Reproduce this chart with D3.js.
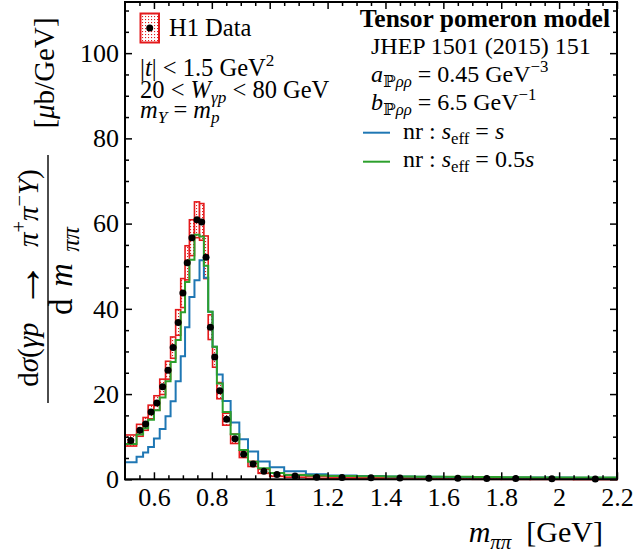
<!DOCTYPE html>
<html lang="en">
<head>
    <meta charset="UTF-8">
    <title>Tensor pomeron model vs H1 data</title>
    <script src="https://d3js.org/d3.v7.min.js"></script>
    <style>
        body { margin: 0; background: #fff; }
        svg text { font-family: "Liberation Serif", "DejaVu Serif", serif; fill: #000; white-space: pre; }
        .tick text { font-size: 26px; }
    </style>
</head>
<body>
    <div id="chart"></div>

    <script>
        // bin edges of m_pipi [GeV]
        const binEdges = [0.5, 0.54, 0.5625, 0.58, 0.6, 0.62, 0.64, 0.6575, 0.675, 0.6925, 0.7075, 0.7225,
            0.74, 0.7575, 0.7725, 0.7875, 0.8025, 0.8175, 0.8375, 0.865, 0.895, 0.925, 0.96, 1.0,
            1.05, 1.125, 1.2, 1.3, 1.4, 1.5, 1.6, 1.7, 1.8, 1.9, 2.05, 2.2];

        // H1 data and total uncertainty (half height of box)
        const h1Values = [9.1, 11.5, 13.0, 15.8, 17.9, 21.7, 25.6, 30.9, 36.8, 43.7, 50.8, 56.7, 60.9, 60.4, 52.1,
            35.7, 28.7, 20.8, 14.1, 9.5, 5.9, 3.6, 1.9, 1.1, 0.8, 0.5, 0.4, 0.35, 0.3, 0.25, 0.22, 0.2, 0.18, 0.12, 0.08];
        const h1Errors = [1.3, 1.4, 1.5, 1.6, 1.7, 1.8, 2.1, 2.5, 3.0, 3.4, 4.0, 4.2, 4.2, 4.3, 5.0,
            2.9, 2.4, 1.9, 1.4, 1.1, 0.8, 0.6, 0.5, 0.4, 0.3, 0.25, 0.2, 0.2, 0.2, 0.2, 0.2, 0.2, 0.2, 0.15, 0.15];

        // model: nr, s_eff = s
        const nrFull = [4.0, 5.3, 6.3, 7.6, 9.6, 11.8, 14.8, 18.3, 23.0, 28.9, 35.7, 42.8, 46.7, 51.4, 47.3,
            39.3, 31.1, 24.6, 18.4, 13.3, 9.4, 6.5, 4.2, 2.8, 1.9, 1.2, 0.9, 0.75, 0.65, 0.6, 0.55, 0.5, 0.45, 0.4, 0.35];
        // model: nr, s_eff = 0.5 s
        const nrHalf = [8.3, 10.5, 12.0, 14.0, 16.2, 19.2, 23.0, 27.5, 32.7, 39.2, 46.3, 51.5, 57.4, 57.0, 50.1,
            39.3, 31.1, 22.5, 15.8, 10.6, 6.9, 4.1, 2.6, 1.5, 1.0, 0.9, 0.75, 0.7, 0.65, 0.6, 0.6, 0.55, 0.5, 0.45, 0.4];

        const xTicks = [0.6, 0.8, 1, 1.2, 1.4, 1.6, 1.8, 2, 2.2];
        const yTicks = [0, 20, 40, 60, 80, 100];

        const W = 633, H = 559;
        const plot = {left: 125, right: 617, top: 2, bottom: 479.3};

        const svg = d3.select("#chart").append("svg")
            .attr("width", W).attr("height", H);

        const x = d3.scaleLinear().domain([0.5, 2.2]).range([plot.left, plot.right]);
        const y = d3.scaleLinear().domain([0, 112]).range([plot.bottom, plot.top]);

        const red = "#e41a1c", blue = "#1f77b4", green = "#2ca02c";

        // dotted fill for data boxes
        const pat = svg.append("defs").append("pattern")
            .attr("id", "dots").attr("width", 3).attr("height", 3)
            .attr("patternUnits", "userSpaceOnUse");
        pat.append("rect").attr("width", 3).attr("height", 3).attr("fill", "#fff");
        pat.append("rect").attr("x", 1).attr("y", 1).attr("width", 1.1).attr("height", 1.1).attr("fill", red);

        const bins = h1Values.map((v, i) => ({
            lo: binEdges[i], hi: binEdges[i + 1], v: v, e: h1Errors[i],
            full: nrFull[i], half: nrHalf[i]
        }));

        const g = svg.append("g");

        // data uncertainty boxes
        g.selectAll(".box").data(bins).enter().append("rect")
            .attr("x", d => x(d.lo))
            .attr("width", d => x(d.hi) - x(d.lo))
            .attr("y", d => y(d.v + d.e))
            .attr("height", d => y(d.v - d.e) - y(d.v + d.e))
            .attr("fill", "url(#dots)")
            .attr("stroke", red)
            .attr("stroke-width", 1.6);

        // model histograms
        function stepLine(key) {
            const pts = bins.map(d => [d.lo, d[key]]);
            pts.push([binEdges[binEdges.length - 1], bins[bins.length - 1][key]]);
            return d3.line().x(p => x(p[0])).y(p => y(p[1])).curve(d3.curveStepAfter)(pts);
        }
        g.append("path").attr("d", stepLine("full")).attr("fill", "none").attr("stroke", blue).attr("stroke-width", 2);
        g.append("path").attr("d", stepLine("half")).attr("fill", "none").attr("stroke", green).attr("stroke-width", 2);

        // data points
        g.selectAll(".pt").data(bins).enter().append("circle")
            .attr("cx", d => x((d.lo + d.hi) / 2))
            .attr("cy", d => y(d.v))
            .attr("r", 3.5)
            .attr("fill", "#000");

        // axes with inward ticks
        function noDomain(sel) { sel.select(".domain").remove(); }
        const xMinor = d3.range(0.55, 2.2001, 0.05).filter(v => !xTicks.some(t => Math.abs(t - v) < 1e-6));
        const yMinor = d3.range(5, 112, 5).filter(v => v % 20 !== 0);

        svg.append("g").attr("transform", `translate(0,${plot.bottom})`)
            .call(d3.axisBottom(x).tickValues(xTicks).tickSizeInner(-7).tickSizeOuter(0).tickPadding(8).tickFormat(d3.format("~g")))
            .call(noDomain);
        svg.append("g").attr("transform", `translate(0,${plot.bottom})`)
            .call(d3.axisBottom(x).tickValues(xMinor).tickSizeInner(-4).tickSizeOuter(0).tickFormat(""))
            .call(noDomain);
        svg.append("g").attr("transform", `translate(0,${plot.top})`)
            .call(d3.axisTop(x).tickValues(xTicks).tickSizeInner(-7).tickSizeOuter(0).tickFormat(""))
            .call(noDomain);
        svg.append("g").attr("transform", `translate(0,${plot.top})`)
            .call(d3.axisTop(x).tickValues(xMinor).tickSizeInner(-4).tickSizeOuter(0).tickFormat(""))
            .call(noDomain);

        svg.append("g").attr("transform", `translate(${plot.left},0)`)
            .call(d3.axisLeft(y).tickValues(yTicks).tickSizeInner(-7).tickSizeOuter(0).tickPadding(6))
            .call(noDomain);
        svg.append("g").attr("transform", `translate(${plot.left},0)`)
            .call(d3.axisLeft(y).tickValues(yMinor).tickSizeInner(-4).tickSizeOuter(0).tickFormat(""))
            .call(noDomain);
        svg.append("g").attr("transform", `translate(${plot.right},0)`)
            .call(d3.axisRight(y).tickValues(yTicks).tickSizeInner(-7).tickSizeOuter(0).tickFormat(""))
            .call(noDomain);
        svg.append("g").attr("transform", `translate(${plot.right},0)`)
            .call(d3.axisRight(y).tickValues(yMinor).tickSizeInner(-4).tickSizeOuter(0).tickFormat(""))
            .call(noDomain);

        svg.selectAll(".tick line").attr("stroke", "#000").attr("stroke-width", 1.5);
        svg.selectAll(".tick text").attr("font-family", null).attr("font-size", null);

        svg.append("rect")
            .attr("x", plot.left).attr("y", plot.top)
            .attr("width", plot.right - plot.left).attr("height", plot.bottom - plot.top)
            .attr("fill", "none").attr("stroke", "#000").attr("stroke-width", 2);

        // rich text: each piece is its own <text>, placed after measuring the previous ones.
        // parts = strings or {t, i (italic), b (bold), sup, sub, scale, dy}
        function rich(parent, px, py, size, parts, opts) {
            opts = opts || {};
            const grp = parent.append("g")
                .attr("transform", `translate(${px},${py})` + (opts.rotate ? " rotate(-90)" : ""));
            const inner = grp.append("g");
            const nodes = [];
            parts.forEach(p => {
                const s = typeof p === "string" ? {t: p} : p;
                const off = (s.sup ? -0.42 * size : s.sub ? 0.22 * size : 0) + (s.dy || 0);
                let fs = (s.sup || s.sub) ? size * (opts.script || 0.7) : size;
                if (s.scale) fs *= s.scale;
                const t = inner.append("text")
                    .attr("y", off)
                    .attr("xml:space", "preserve")
                    .attr("font-size", fs)
                    .attr("font-style", s.i ? "italic" : null)
                    .attr("font-weight", s.b ? "bold" : null)
                    .text(s.t);
                nodes.push(t);
            });
            const widths = nodes.map(t => t.node().getComputedTextLength());
            const natural = d3.sum(widths);
            let gap = 0;
            if (opts.length && nodes.length > 1) gap = Math.max(0, (opts.length - natural) / (nodes.length - 1));
            let cx = 0;
            nodes.forEach((t, k) => { t.attr("x", cx); cx += widths[k] + gap; });
            const total = cx - gap;
            const anchor = opts.anchor || "start";
            const dx = anchor === "middle" ? -total / 2 : anchor === "end" ? -total : 0;
            inner.attr("transform", `translate(${dx},0)`);
            return grp;
        }

        // y axis title
        rich(svg, 38, 278, 29, ["d", {t: "σ", i: true}, "(", {t: "γ", i: true}, {t: "p", i: true}, "\u2002",
            {t: "→", scale: 1.6, dy: 2.5}, "\u2002",
            {t: "π", i: true}, {t: "+", sup: true}, {t: "π", i: true}, {t: "−", sup: true}, {t: "Y", i: true}, ")"],
            {anchor: "middle", rotate: true});
        svg.append("line").attr("x1", 48).attr("x2", 48).attr("y1", 155).attr("y2", 403)
            .attr("stroke", "#000").attr("stroke-width", 1.4);
        rich(svg, 72, 271, 33, ["d", {t: "m", i: true}, {t: "ππ", i: true, sub: true}],
            {anchor: "middle", rotate: true, length: 88, script: 0.75});
        rich(svg, 54, 73, 29, ["[", {t: "μ", i: true}, "b/GeV]"], {anchor: "middle", rotate: true});

        // x axis title
        rich(svg, 603, 542, 30, [{t: "m", i: true}, {t: "ππ", i: true, sub: true}, "  [GeV]"], {anchor: "end"});

        // data legend
        svg.append("rect").attr("x", 140.5).attr("y", 13.5).attr("width", 18.5).attr("height", 29)
            .attr("fill", "url(#dots)").attr("stroke", red).attr("stroke-width", 2);
        svg.append("circle").attr("cx", 149.7).attr("cy", 28).attr("r", 3.5).attr("fill", "#000");
        rich(svg, 169, 36, 24.5, ["H1 Data"]);

        rich(svg, 140, 76, 24.5, ["|", {t: "t", i: true}, "| < 1.5 GeV", {t: "2", sup: true}]);
        rich(svg, 140, 98, 24.5, ["20 < ", {t: "W", i: true}, {t: "γ", i: true, sub: true}, {t: "p", i: true, sub: true}, " < 80 GeV"]);
        rich(svg, 140, 118, 24.5, [{t: "m", i: true}, {t: "Y", i: true, sub: true}, " = ", {t: "m", i: true}, {t: "p", i: true, sub: true}]);

        // model legend
        rich(svg, 610, 27, 25.5, [{t: "Tensor pomeron model", b: true}], {anchor: "end"});
        rich(svg, 371, 54, 24, ["JHEP 1501 (2015) 151"]);
        rich(svg, 371, 82, 24, [{t: "a", i: true}, {t: "ℙ", sub: true}, {t: "ρρ", i: true, sub: true}, " = 0.45 GeV", {t: "−3", sup: true}]);
        rich(svg, 371, 110, 24, [{t: "b", i: true}, {t: "ℙ", sub: true}, {t: "ρρ", i: true, sub: true}, " = 6.5 GeV", {t: "−1", sup: true}]);

        const legendModels = [
            {color: blue, ly: 132.7, ty: 139, label: "s"},
            {color: green, ly: 161.7, ty: 167, label: "0.5"}
        ];
        legendModels.forEach(m => {
            svg.append("line").attr("x1", 363).attr("x2", 390).attr("y1", m.ly).attr("y2", m.ly)
                .attr("stroke", m.color).attr("stroke-width", 2);
            const parts = ["nr : ", {t: "s", i: true}, {t: "eff", sub: true}, " = "];
            if (m.label === "s") parts.push({t: "s", i: true});
            else { parts.push("0.5"); parts.push({t: "s", i: true}); }
            rich(svg, 403, m.ty, 24, parts);
        });
    </script>
</body>
</html>
